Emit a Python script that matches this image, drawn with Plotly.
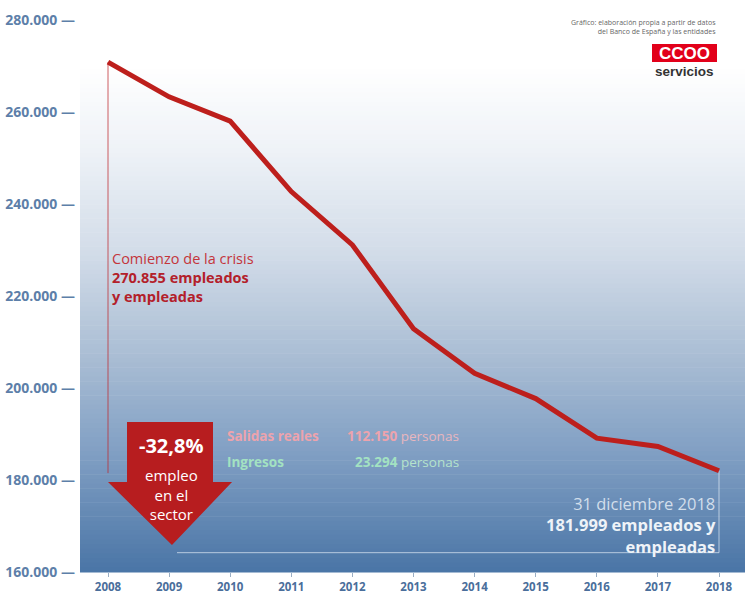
import plotly.graph_objects as go

# ---- data ----
years = [2008, 2009, 2010, 2011, 2012, 2013, 2014, 2015, 2016, 2017, 2018]
empleo = [270855, 263300, 258000, 242700, 231100, 212900, 203200, 197700, 189100, 187300, 181999]
y_ticks = [160000, 180000, 200000, 220000, 240000, 260000, 280000]
y_tick_labels = ["160.000 —", "180.000 —", "200.000 —", "220.000 —", "240.000 —", "260.000 —", "280.000 —"]
salidas_reales = 112150
ingresos = 23294

W, H = 745, 595
ML, MR, MT, MB = 80, 0, 20, 23
PW, PH = W - ML - MR, H - MT - MB


def px(x):
    return (x - ML) / PW


def py(y):
    return (H - MB - y) / PH


def fmt(n):
    return f"{n:,}".replace(",", ".")


fig = go.Figure()

# gradient background (style only)
stops = [(65, (255, 255, 255)), (150, (238, 242, 247)), (250, (211, 221, 233)),
         (350, (172, 191, 213)), (450, (130, 160, 196)), (572, (74, 117, 166))]


def col_at(y):
    for (y0, c0), (y1, c1) in zip(stops[:-1], stops[1:]):
        if y0 <= y <= y1:
            t = (y - y0) / (y1 - y0)
            return tuple(round(a + (b - a) * t) for a, b in zip(c0, c1))
    return stops[0][1] if y < stops[0][0] else stops[-1][1]


shapes = []
n = 110
top, bot = 60, H - MB
for i in range(n):
    ya = top + (bot - top) * i / n
    yb = top + (bot - top) * (i + 1) / n
    c = col_at((ya + yb) / 2)
    shapes.append(dict(type="rect", xref="paper", yref="paper", x0=0, x1=1,
                       y0=py(yb) - 0.001, y1=py(ya), fillcolor=f"rgb{c}",
                       line=dict(width=0), layer="below"))

# thin vertical red line from start down
shapes.append(dict(type="line", xref="x", yref="y", x0=years[0], x1=years[0],
                   y0=empleo[0], y1=empleo[-1] - 500,
                   line=dict(color="rgba(190,40,45,0.75)", width=1), layer="below"))
# thin light lines at the end
shapes.append(dict(type="line", xref="x", yref="y", x0=years[-1], x1=years[-1],
                   y0=empleo[-1], y1=164200,
                   line=dict(color="rgba(225,235,245,0.7)", width=1), layer="below"))
shapes.append(dict(type="line", xref="paper", yref="y", x0=px(177), x1=px(719),
                   y0=164200, y1=164200,
                   line=dict(color="rgba(225,235,245,0.7)", width=1), layer="below"))

# big red arrow
pts = [(127, 422), (213, 422), (213, 482), (232, 482), (172, 545), (108, 482), (127, 482)]
path = "M " + " L ".join(f"{px(x):.4f},{py(y):.4f}" for x, y in pts) + " Z"
shapes.append(dict(type="path", xref="paper", yref="paper", path=path,
                   fillcolor="#b71d1f", line=dict(width=0), layer="above"))

# CCOO logo box
shapes.append(dict(type="rect", xref="paper", yref="paper", x0=px(652), x1=px(717),
                   y0=py(62), y1=py(44), fillcolor="#e2001a", line=dict(width=0)))

fig.add_trace(go.Scatter(x=years, y=empleo, mode="lines",
                         line=dict(color="#bd1f1c", width=5), hoverinfo="skip"))

FONT = "Open Sans"
anns = []


def ann(x, y, text, size, color, xanchor="left", family=FONT, **kw):
    anns.append(dict(xref="paper", yref="paper", x=px(x), y=py(y), text=text,
                     showarrow=False, xanchor=xanchor, yanchor="middle",
                     font=dict(family=family, size=size, color=color), **kw))


# start annotation
ann(110, 277, "<span style='color:#c4353b'>Comienzo de la crisis</span><br>"
              f"<b>{fmt(empleo[0])} empleados<br>y empleadas</b>", 14.5, "#b3202a", align="left")

# arrow texts
pct = (empleo[-1] - empleo[0]) / empleo[0] * 100
ann(171, 445, f"<b>{pct:.1f}%</b>".replace(".", ","), 20, "white", xanchor="center")
ann(171, 494, "empleo<br>en el<br>sector", 15, "white", xanchor="center", align="center")

# salidas / ingresos
ann(225, 436, "<b>Salidas reales</b>", 13.5, "#eda3ad")
ann(461, 436, f"<b>{fmt(salidas_reales)}</b> <span style='color:#e8b6be'>personas</span>",
    13.5, "#eda3ad", xanchor="right")
ann(225, 462, "<b>Ingresos</b>", 13.5, "#a3e2c2")
ann(461, 462, f"<b>{fmt(ingresos)}</b> <span style='color:#b5e3cc'>personas</span>",
    13.5, "#a3e2c2", xanchor="right")

# end annotation
ann(718, 525, f"<span style='color:#d2deeb'>31 diciembre {years[-1]}</span><br>"
              f"<b>{fmt(empleo[-1])} empleados y<br>empleadas</b>", 16.5, "#eef3f8",
    xanchor="right", align="right")

# source and logo
ann(718, 27, "Gráfico: elaboración propia a partir de datos<br>del Banco de España y las entidades",
    7, "#666666", xanchor="right", align="right")
ann(684.5, 53.5, "<b>CCOO</b>", 17, "white", xanchor="center", family="Liberation Sans")
ann(684.5, 72, "<b>servicios</b>", 13.5, "#333333", xanchor="center", family="Liberation Sans")

fig.update_layout(
    width=W, height=H,
    margin=dict(l=ML, r=MR, t=MT, b=MB, pad=0),
    paper_bgcolor="white", plot_bgcolor="rgba(0,0,0,0)",
    separators=",.",
    showlegend=False,
    shapes=shapes, annotations=anns,
    xaxis=dict(range=[years[0] - 28 / 61.1, years[-1] + 26 / 61.1], tickmode="array",
               tickvals=years, ticktext=[str(y) for y in years],
               showgrid=False, zeroline=False, showline=False,
               ticks="outside", ticklen=4, tickcolor="#9aaec4", tickwidth=1,
               ticklabelstandoff=0,
               tickfont=dict(family=FONT, size=11.5, color="#4a6e9b", weight="bold"),
               automargin=False),
    yaxis=dict(range=[160000, 280000], tickmode="array", tickvals=y_ticks,
               ticktext=y_tick_labels,
               showgrid=False, zeroline=False, showline=False, ticks="",
               ticklabelstandoff=4,
               tickfont=dict(family=FONT, size=14, color="#5d7fa9", weight="bold"),
               automargin=False),
)

fig.write_html("out.html", config={"displayModeBar": False},
               post_script="document.body.style.margin='0';document.body.style.overflow='hidden';")
